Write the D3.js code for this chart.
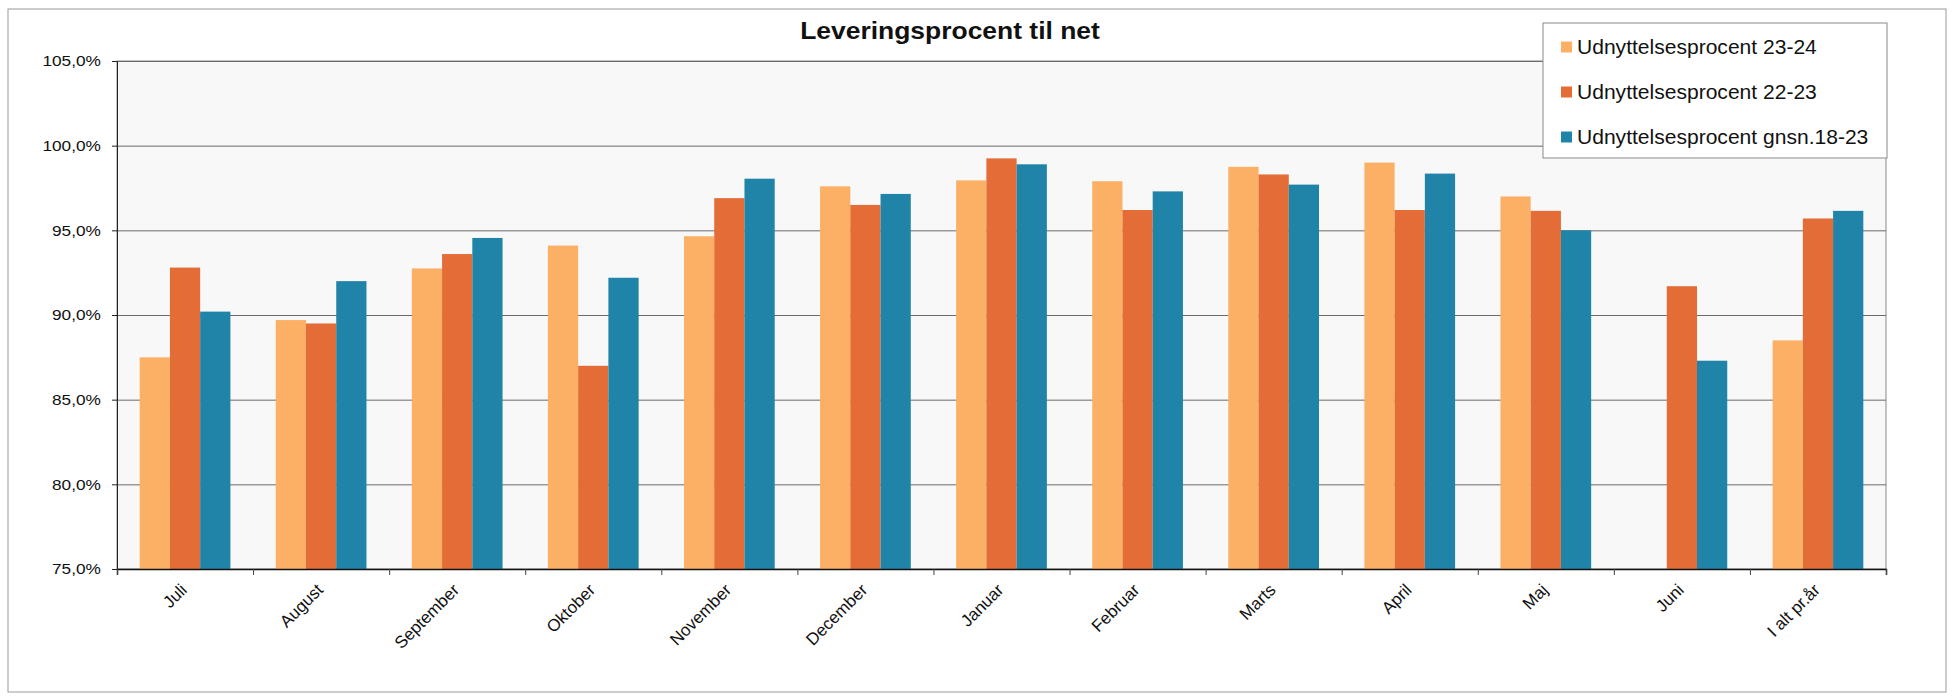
<!DOCTYPE html>
<html>
<head>
<meta charset="utf-8">
<script src="https://cdn.jsdelivr.net/npm/d3@7"></script>
<style>
  body { margin: 0; background: #fff; }
  text { font-family: "Liberation Sans", Arial, sans-serif; }
</style>
</head>
<body>
<div id="chart"></div>
<script>
// data
const måneder = ['Juli', 'August', 'September', 'Oktober', 'November', 'December',
    'Januar', 'Februar', 'Marts', 'April', 'Maj', 'Juni', 'I alt pr.år'];
const serier = ['Udnyttelsesprocent 23-24', 'Udnyttelsesprocent 22-23', 'Udnyttelsesprocent gnsn.18-23'];
const farver = ['#fbb066', '#e36c37', '#1f84a8'];
const v2324 = [87.5, 89.7, 92.75, 94.1, 94.65, 97.6, 97.95, 97.9, 98.75, 99.0, 97.0, null, 88.5];
const v2223 = [92.8, 89.5, 93.6, 87.0, 96.9, 96.5, 99.25, 96.2, 98.3, 96.2, 96.15, 91.7, 95.7];
const vGnsn = [90.2, 92.0, 94.55, 92.2, 98.05, 97.15, 98.9, 97.3, 97.7, 98.35, 95.0, 87.3, 96.15];
const yTicks = [75, 80, 85, 90, 95, 100, 105];

const largura = 1953, altura = 696;
const m = { left: 117, right: 1886, top: 61, bottom: 569 };
// the scan is a bit wider than tall, so text gets a small horizontal stretch
const stræk = 1.15;

const svg = d3.select('#chart')
    .append('svg')
    .attr('width', largura)
    .attr('height', altura);

// ydre ramme
svg.append('rect')
    .attr('x', 8).attr('y', 9)
    .attr('width', 1938).attr('height', 683)
    .attr('fill', '#fff')
    .attr('stroke', '#9a9a9a');

svg.append('rect')
    .attr('x', m.left).attr('y', m.top)
    .attr('width', m.right - m.left).attr('height', m.bottom - m.top)
    .attr('fill', '#f8f8f8')
    .attr('stroke', '#8a8a8a');

const x0 = d3.scaleBand()
    .domain(måneder)
    .range([m.left, m.right])
    .paddingInner(1 / 3)
    .paddingOuter(1 / 6);
const x1 = d3.scaleBand()
    .domain(serier)
    .range([0, x0.bandwidth()]);
const y = d3.scaleLinear()
    .domain([75, 105])
    .range([m.bottom, m.top]);

// gitterlinjer
svg.append('g')
    .attr('transform', `translate(${m.left},0)`)
    .call(d3.axisLeft(y).tickValues(yTicks).tickSize(-(m.right - m.left)).tickFormat(''))
    .call(g => g.select('.domain').remove())
    .call(g => g.selectAll('line').attr('stroke', '#6b6b6b'));

const rækker = måneder.map((d, i) => ({
    måned: d,
    værdier: [v2324[i], v2223[i], vGnsn[i]].map((v, j) => ({ serie: serier[j], v: v, farve: farver[j] }))
}));

svg.append('g')
    .selectAll('g')
    .data(rækker)
    .enter()
    .append('g')
    .attr('transform', d => `translate(${x0(d.måned)},0)`)
    .selectAll('rect')
    .data(d => d.værdier.filter(e => e.v !== null))
    .enter()
    .append('rect')
    .attr('x', d => x1(d.serie))
    .attr('y', d => y(d.v))
    .attr('width', x1.bandwidth())
    .attr('height', d => y(75) - y(d.v))
    .attr('fill', d => d.farve);

// y-akse
svg.append('g')
    .attr('transform', `translate(${m.left},0)`)
    .call(d3.axisLeft(y).tickValues(yTicks).tickSize(5).tickPadding(9)
        .tickFormat(d => d.toFixed(1).replace('.', ',') + '%'))
    .call(g => g.select('.domain').attr('stroke', '#222'))
    .call(g => g.selectAll('line').attr('stroke', '#222'))
    .call(g => g.selectAll('text').attr('font-size', 15).attr('fill', '#111')
        .attr('transform', `scale(${stræk},1)`)
        .attr('font-family', '"Liberation Sans", Arial, sans-serif'));

// x-akse: streger mellem kategorierne
const xGrænse = d3.scaleLinear().domain([0, måneder.length]).range([m.left, m.right]);
svg.append('g')
    .attr('transform', `translate(0,${m.bottom})`)
    .call(d3.axisBottom(xGrænse).tickValues(d3.range(måneder.length + 1)).tickSize(6).tickFormat(''))
    .call(g => g.select('.domain').attr('stroke', '#111').attr('stroke-width', 1.5))
    .call(g => g.selectAll('line').attr('stroke', '#444'));

svg.append('g')
    .selectAll('text')
    .data(måneder)
    .enter()
    .append('text')
    .attr('transform', d => `translate(${x0(d) + x0.bandwidth() / 2 + 3},${m.bottom + 22}) rotate(-45)`)
    .attr('text-anchor', 'end')
    .attr('font-size', 17)
    .attr('fill', '#111')
    .text(d => d);

svg.append('text')
    .attr('transform', `translate(950,39) scale(${stræk},1)`)
    .attr('text-anchor', 'middle')
    .attr('font-size', 23)
    .attr('font-weight', 'bold')
    .attr('fill', '#111')
    .text('Leveringsprocent til net');

// forklaring
const legend = svg.append('g');
legend.append('rect')
    .attr('x', 1543).attr('y', 23)
    .attr('width', 344).attr('height', 135)
    .attr('fill', '#fff')
    .attr('stroke', '#8a8a8a');
const poster = legend.selectAll('g')
    .data(serier)
    .enter()
    .append('g')
    .attr('transform', (d, i) => `translate(1561,${47 + i * 45})`);
poster.append('rect')
    .attr('x', 0).attr('y', -5.5)
    .attr('width', 11).attr('height', 11)
    .attr('fill', (d, i) => farver[i]);
poster.append('text')
    .attr('transform', 'translate(16,7) scale(1.08,1)')
    .attr('font-size', 19.5)
    .attr('fill', '#111')
    .text(d => d);
</script>
</body>
</html>
